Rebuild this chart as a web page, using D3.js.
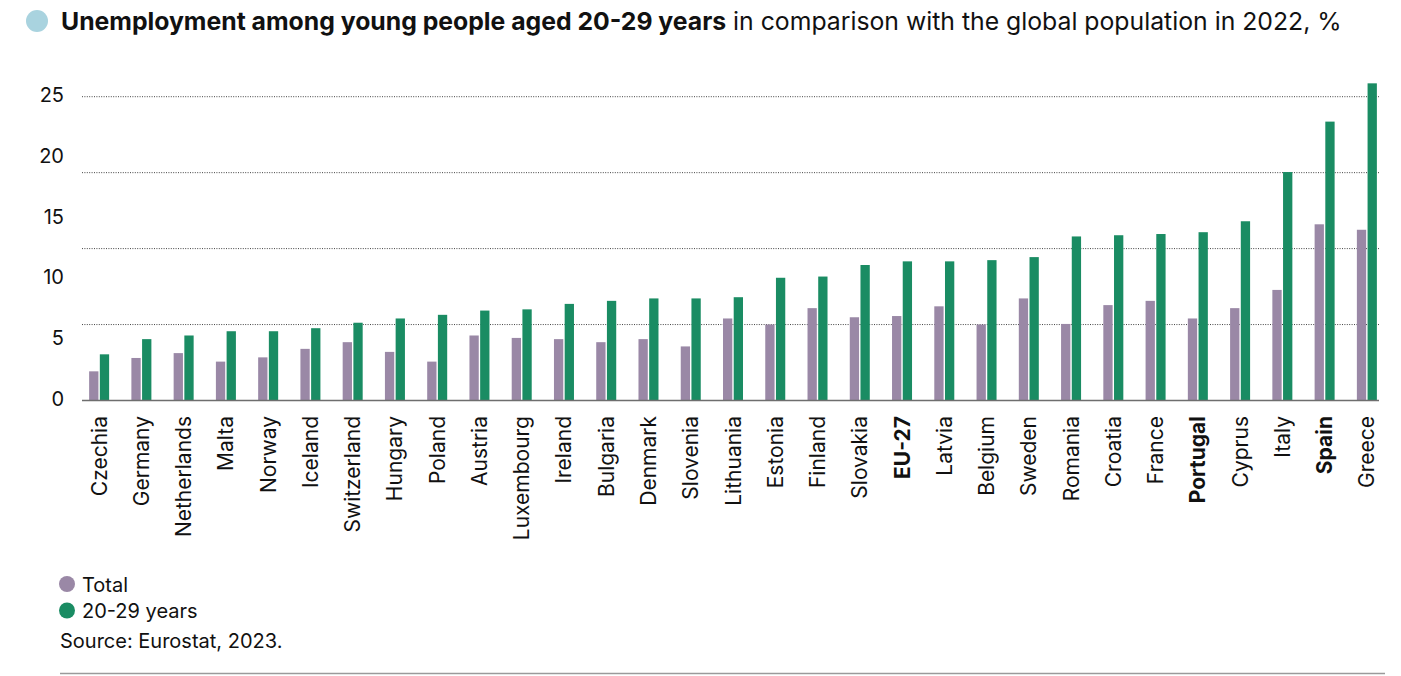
<!DOCTYPE html>
<html>
<head>
<meta charset="utf-8">
<script src="https://cdn.jsdelivr.net/npm/d3@7"></script>
<style>
  html, body { margin: 0; padding: 0; background: #fff; }
  svg { display: block; font-family: Inter, "Liberation Sans", Arial, sans-serif; }
</style>
</head>
<body>
<svg id="chart" width="1401" height="676"></svg>
<script>
// ---- data ----
const countries = ["Czechia","Germany","Netherlands","Malta","Norway","Iceland","Switzerland","Hungary","Poland","Austria","Luxembourg","Ireland","Bulgaria","Denmark","Slovenia","Lithuania","Estonia","Finland","Slovakia","EU-27","Latvia","Belgium","Sweden","Romania","Croatia","France","Portugal","Cyprus","Italy","Spain","Greece"];
const totalValues = [2.4, 3.5, 3.9, 3.2, 3.55, 4.25, 4.8, 4.0, 3.2, 5.35, 5.15, 5.05, 4.8, 5.05, 4.45, 6.75, 6.25, 7.6, 6.85, 6.95, 7.75, 6.25, 8.4, 6.3, 7.85, 8.2, 6.75, 7.6, 9.1, 14.5, 14.05];
const youthValues = [3.8, 5.05, 5.35, 5.7, 5.7, 5.95, 6.4, 6.75, 7.05, 7.4, 7.5, 7.95, 8.2, 8.4, 8.4, 8.5, 10.1, 10.2, 11.15, 11.45, 11.45, 11.55, 11.8, 13.5, 13.6, 13.7, 13.85, 14.75, 18.8, 22.95, 26.1];
const boldCountries = ["EU-27","Portugal","Spain"];
const yTickValues = [0, 5, 10, 15, 20, 25];
const gridValues = [6.25, 12.5, 18.75, 25];
const seriesNames = ["Total", "20-29 years"];
const seriesColors = ["#9a88a6", "#1a8c63"];
const titleBold = "Unemployment among young people aged 20-29 years";
const titleRest = " in comparison with the global population in 2022, %";
const sourceText = "Source: Eurostat, 2023.";

// ---- drawing ----
const FONT = "Inter, 'Liberation Sans', Arial, sans-serif";
const svg = d3.select("#chart");
const y = d3.scaleLinear().domain([0, 25]).range([400.5, 96.7]);
const x = d3.scaleBand().domain(countries).range([78, 1388]).padding(0);
const gridX0 = 82, gridX1 = 1379;
const barW = 9.3, gap = 1.4;

// title
svg.append("circle").attr("cx", 37).attr("cy", 21).attr("r", 11).attr("fill", "#a9d3df");
const title = svg.append("text").attr("x", 61).attr("y", 30).attr("font-size", 21).attr("fill", "#111");
title.append("tspan").attr("font-weight", 700).text(titleBold);
title.append("tspan").attr("font-weight", 400).text(titleRest);
const tw = title.node().getComputedTextLength();
title.attr("font-size", 21 * (1342 - 61) / tw);

// gridlines
svg.append("g").selectAll("line").data(gridValues).join("line")
  .attr("x1", gridX0).attr("x2", gridX1)
  .attr("y1", d => y(d)).attr("y2", d => y(d))
  .attr("stroke", "#444").attr("stroke-width", 1)
  .attr("stroke-dasharray", "1,1.4");

// y tick labels
const yAxis = d3.axisLeft(y).tickValues(yTickValues).tickSize(0).tickPadding(0).tickFormat(d3.format("d"));
const yg = svg.append("g").attr("transform", "translate(64,-1.5)").call(yAxis);
yg.select(".domain").remove();
yg.selectAll("text").attr("font-size", 20).attr("fill", "#111").attr("font-family", FONT);

// bars
const groups = svg.append("g").selectAll("g").data(countries).join("g")
  .attr("transform", d => `translate(${x(d) + x.bandwidth() / 2},0)`);
groups.append("rect")
  .attr("x", -gap / 2 - barW).attr("width", barW)
  .attr("y", (d, i) => y(totalValues[i]))
  .attr("height", (d, i) => y(0) - y(totalValues[i]))
  .attr("fill", seriesColors[0]);
groups.append("rect")
  .attr("x", gap / 2).attr("width", barW)
  .attr("y", (d, i) => y(youthValues[i]))
  .attr("height", (d, i) => y(0) - y(youthValues[i]))
  .attr("fill", seriesColors[1]);

// baseline
svg.append("line").attr("x1", gridX0).attr("x2", gridX1)
  .attr("y1", y(0)).attr("y2", y(0)).attr("stroke", "#6e6e6e").attr("stroke-width", 1.5);

// x labels
const xAxis = d3.axisBottom(x).tickSize(0).tickPadding(0);
const xg = svg.append("g").call(xAxis);
xg.select(".domain").remove();
xg.selectAll(".tick").attr("transform", d => `translate(${x(d) + x.bandwidth() / 2 + 7.5},416)`);
xg.selectAll(".tick text")
  .attr("transform", "rotate(-90)")
  .attr("x", 0).attr("y", 0).attr("dy", 0)
  .attr("text-anchor", "end")
  .attr("font-size", 21)
  .attr("fill", "#111")
  .attr("font-family", FONT)
  .attr("font-weight", d => boldCountries.includes(d) ? 700 : 400);

// legend
const lg = svg.append("g").selectAll("g").data(seriesNames).join("g")
  .attr("transform", (d, i) => `translate(0,${584 + i * 26.5})`);
lg.append("circle").attr("cx", 67).attr("cy", 0).attr("r", 8).attr("fill", (d, i) => seriesColors[i]);
lg.append("text").attr("x", 82).attr("y", 7.8).attr("font-size", 20).attr("fill", "#111").text(d => d);

// source
svg.append("text").attr("x", 60).attr("y", 648).attr("font-size", 20).attr("fill", "#111").text(sourceText);

// bottom rule
svg.append("line").attr("x1", 60).attr("x2", 1385).attr("y1", 673.5).attr("y2", 673.5)
  .attr("stroke", "#9a9a9a").attr("stroke-width", 1.5);
</script>
</body>
</html>
